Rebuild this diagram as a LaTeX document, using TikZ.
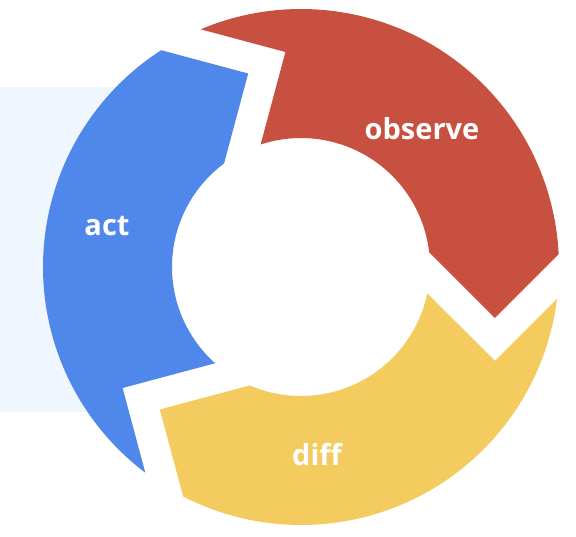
\documentclass[tikz,border=0pt]{standalone}
\usepackage{fontspec}
\setsansfont{Open Sans}
\usepackage{tikz}
\definecolor{obsred}{HTML}{C85040}
\definecolor{diffyellow}{HTML}{F3CB5E}
\definecolor{actblue}{HTML}{4F87EB}
\definecolor{paneblue}{HTML}{EFF6FD}
\tikzset{steplabel/.style={text=white,font=\sffamily\bfseries\fontsize{29}{29}\selectfont}}

\begin{document}
\begin{tikzpicture}[x=1pt,y=1pt]

  \newcommand\Rout{258};
  \newcommand\Rin{129};

  \useasboundingbox (-301,-269) rectangle (275,267);
  \fill[paneblue] (-301,180) rectangle (-181,-145); %% pane behind the ring

  % one arrow per step, clockwise: tail at \a, head at \a-120
  \foreach \a/\c in {120/obsred, 0/diffyellow, -120/actblue}{
    \fill[\c] (\a-7.12:\Rout) arc[start angle=\a-7.12, end angle=\a-117.18, radius=\Rout]
      -- (\a-134.73:200.59) -- (\a-113.39:\Rin)
      arc[start angle=\a-113.39, end angle=\a-11.76, radius=\Rin]
      -- (\a-25.85:215.57) -- cycle;
  }

  \node[steplabel] (observe) at (121,138) {observe};
  \node[steplabel] (diff) at (16,-188) {diff};
  \node[steplabel] (act) at (-194,41) {act};

\end{tikzpicture}
\end{document}
